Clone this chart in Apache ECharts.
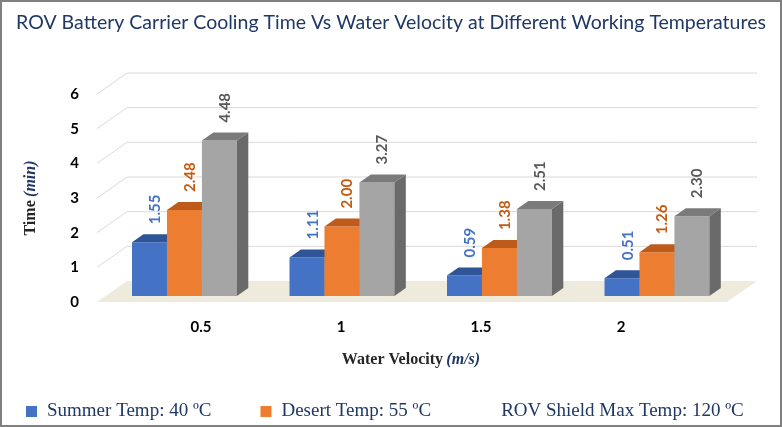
<!DOCTYPE html>
<html>
<head>
<meta charset="utf-8">
<script src="https://cdn.jsdelivr.net/npm/echarts@6/dist/echarts.min.js"></script>
<style>
  html, body { margin: 0; padding: 0; background: #fff; }
  #main { width: 782px; height: 427px; }
</style>
</head>
<body>
<div id="main"></div>
<script>
var categories = ['0.5', '1', '1.5', '2'];
var summer = [1.55, 1.11, 0.59, 0.51];
var desert = [2.48, 2.00, 1.38, 1.26];
var shield = [4.48, 3.27, 2.51, 2.30];
var yTicks = [0, 1, 2, 3, 4, 5, 6];
var seriesNames = ['Summer Temp: 40 ºC', 'Desert Temp: 55 ºC', 'ROV Shield Max Temp: 120 ºC'];

// fake 3d: how far the floor goes back, and where the bars sit in it
var DX = 30, DY = -21;
var FRONT = 0.29, DEPTH = 0.38;
var BAR = 0.222;

var faces = [
  { front: '#4472C4', top: '#2F5597', side: '#2F5597', label: '#4472C4' },
  { front: '#ED7D31', top: '#BE5B1B', side: '#B4541A', label: '#C55A11' },
  { front: '#A5A5A5', top: '#7B7B7B', side: '#6A6A6A', label: '#595959' }
];

function wallItem(params, api) {
  var cs = params.coordSys;
  var v = api.value(1);
  var y = api.coord([0, v])[1];
  var L = cs.x, R = cs.x + cs.width;
  if (v === 0) {
    return {
      type: 'polygon',
      shape: { points: [[L, y], [R, y], [R + DX, y + DY], [L + DX, y + DY]] },
      style: { fill: '#EEEBDD', stroke: null }
    };
  }
  return {
    type: 'polyline',
    shape: { points: [[L, y], [L + DX, y + DY], [R + DX, y + DY]] },
    style: { stroke: '#D9D9D9', lineWidth: 1, fill: null }
  };
}

function barItem(idx) {
  var f = faces[idx];
  return function (params, api) {
    var cat = api.value(0), val = api.value(1);
    var base = api.coord([cat, 0]);
    var top = api.coord([cat, val]);
    var w = api.size([1, 0])[0] * BAR;
    var bx = DEPTH * DX, by = DEPTH * DY;
    var x0 = base[0] + FRONT * DX + (idx - 1.5) * w;
    var x1 = x0 + w;
    var yb = base[1] + FRONT * DY;
    var yt = top[1] + FRONT * DY;
    return {
      type: 'group',
      children: [
        { type: 'rect', shape: { x: x0, y: yt, width: w, height: yb - yt }, style: { fill: f.front } },
        { type: 'polygon', shape: { points: [[x0, yt], [x1, yt], [x1 + bx, yt + by], [x0 + bx, yt + by]] }, style: { fill: f.top } },
        { type: 'polygon', shape: { points: [[x1, yt], [x1 + bx, yt + by], [x1 + bx, yb + by], [x1, yb]] }, style: { fill: f.side } },
        {
          type: 'text', x: x0 + w / 2 + bx / 2, y: yt + by / 2 - 14, rotation: Math.PI / 2,
          style: {
            text: val.toFixed(2), fill: f.label,
            fontFamily: 'Lato', fontWeight: 'bold', fontSize: 15,
            align: 'left', verticalAlign: 'middle'
          }
        }
      ]
    };
  };
}

function toData(arr) {
  return arr.map(function (v, i) { return [i, v]; });
}

var myChart = echarts.init(document.getElementById('main'));
var option = {
  animation: false,
  title: {
    text: 'ROV Battery Carrier Cooling Time Vs Water Velocity at Different Working Temperatures',
    left: 'center',
    top: 13,
    padding: 0,
    textStyle: { color: '#1F3864', fontFamily: 'Lato', fontSize: 19.5, fontWeight: 'normal' }
  },
  graphic: [{
    type: 'rect', silent: true,
    shape: { x: 1, y: 1, width: 780, height: 425 },
    style: { fill: null, stroke: '#808080', lineWidth: 2 }
  }],
  legend: {
    data: [
      { name: seriesNames[0], icon: 'rect' },
      { name: seriesNames[1], icon: 'rect' },
      { name: seriesNames[2], icon: 'rect', itemStyle: { opacity: 0 } }
    ],
    left: 21,
    top: 397,
    itemWidth: 11,
    itemHeight: 11,
    itemGap: 49,
    selectedMode: false,
    textStyle: { fontFamily: 'Liberation Serif', fontSize: 19, color: '#1F3864', padding: [0, 0, 0, 5] }
  },
  grid: [
    { left: 97, top: 94, width: 630, height: 208 },
    { left: 131, top: 94, width: 560, height: 208 }
  ],
  xAxis: [
    {
      type: 'category', gridIndex: 0, data: categories,
      axisLine: { show: false }, axisTick: { show: false }, axisLabel: { show: false }
    },
    {
      type: 'category', gridIndex: 1, data: categories,
      axisLine: { show: false }, axisTick: { show: false },
      axisLabel: { margin: 18, color: '#000', fontFamily: 'Lato', fontWeight: 'bold', fontSize: 15 },
      name: '{a|Water Velocity} {b|(m/s)}',
      nameLocation: 'middle',
      nameGap: 50,
      nameTextStyle: {
        rich: {
          a: { fontFamily: 'Liberation Serif', fontWeight: 'bold', fontSize: 16, color: '#262626' },
          b: { fontFamily: 'Liberation Serif', fontWeight: 'bold', fontStyle: 'italic', fontSize: 16, color: '#1F3864' }
        }
      }
    }
  ],
  yAxis: [
    {
      type: 'value', gridIndex: 0, min: 0, max: 6, interval: 1,
      axisLine: { show: false }, axisTick: { show: false }, splitLine: { show: false },
      axisLabel: { margin: 18, color: '#000', fontFamily: 'Lato', fontWeight: 'bold', fontSize: 15 },
      name: '{a|Time} {b|(min)}',
      nameLocation: 'middle',
      nameRotate: 90,
      nameGap: 58,
      nameTextStyle: {
        rich: {
          a: { fontFamily: 'Liberation Serif', fontWeight: 'bold', fontSize: 16, color: '#262626' },
          b: { fontFamily: 'Liberation Serif', fontWeight: 'bold', fontStyle: 'italic', fontSize: 16, color: '#1F3864' }
        }
      }
    },
    { type: 'value', gridIndex: 1, min: 0, max: 6, show: false }
  ],
  series: [
    {
      type: 'custom', name: 'walls', xAxisIndex: 0, yAxisIndex: 0, z: 1, silent: true,
      renderItem: wallItem,
      data: yTicks.map(function (v) { return [0, v]; })
    },
    {
      type: 'custom', name: seriesNames[0], xAxisIndex: 0, yAxisIndex: 0, z: 2,
      itemStyle: { color: faces[0].front },
      renderItem: barItem(0), data: toData(summer)
    },
    {
      type: 'custom', name: seriesNames[1], xAxisIndex: 0, yAxisIndex: 0, z: 2,
      itemStyle: { color: faces[1].front },
      renderItem: barItem(1), data: toData(desert)
    },
    {
      type: 'custom', name: seriesNames[2], xAxisIndex: 0, yAxisIndex: 0, z: 2,
      itemStyle: { color: faces[2].front },
      renderItem: barItem(2), data: toData(shield)
    }
  ]
};
myChart.setOption(option);
</script>
</body>
</html>
